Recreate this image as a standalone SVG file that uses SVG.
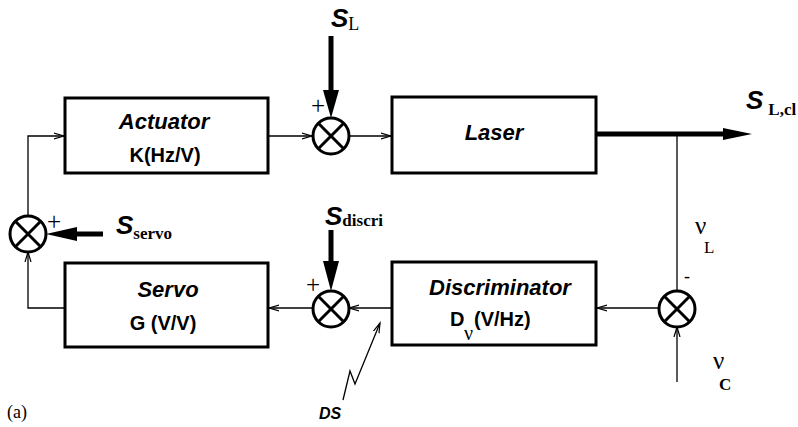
<svg xmlns="http://www.w3.org/2000/svg" width="798" height="427" viewBox="0 0 798 427">
<style>
.box{fill:#fff;stroke:#000;stroke-width:3}
.sum{fill:#fff;stroke:#000;stroke-width:3}
.x{stroke:#000;stroke-width:3}
.thin{fill:none;stroke:#000;stroke-width:1.3}
.thick{fill:none;stroke:#000;stroke-width:5}
.head{fill:#000}
.title{font-family:"Liberation Sans",Arial,sans-serif;font-weight:bold;font-style:italic;font-size:22px;text-anchor:middle}
.sub{font-family:"Liberation Sans",Arial,sans-serif;font-weight:bold;font-size:20px}
.S{font-family:"Liberation Sans",Arial,sans-serif;font-weight:bold;font-style:italic;font-size:26px}
.ser{font-family:"Liberation Serif","Times New Roman",serif}
.serb{font-family:"Liberation Serif","Times New Roman",serif;font-weight:bold}
.plus{font-family:"Liberation Serif","Times New Roman",serif;font-size:25px;text-anchor:middle}
</style>
<defs>
<marker id="arr" markerUnits="userSpaceOnUse" markerWidth="12" markerHeight="8" refX="10" refY="4" orient="auto">
<path d="M0,1 L10,4 L0,7" fill="none" stroke="#000" stroke-width="1.2"/>
</marker>
</defs>
<rect width="798" height="427" fill="#fff"/>

<g id="connectors">
<line class="thin" x1="268" y1="136" x2="312" y2="136" marker-end="url(#arr)"/>
<line class="thin" x1="349" y1="136" x2="391" y2="136" marker-end="url(#arr)"/>
<line class="thick" x1="331" y1="36" x2="331" y2="95"/>
<polygon class="head" points="323,90 339,90 331,118"/>
<line class="thick" x1="596" y1="134" x2="726" y2="134"/>
<polygon class="head" points="723,128 723,140 752,134"/>
<line class="thin" x1="677" y1="134" x2="677" y2="291"/>
<line class="thin" x1="677" y1="382" x2="677" y2="327" marker-end="url(#arr)"/>
<line class="thin" x1="659" y1="308" x2="597" y2="308" marker-end="url(#arr)"/>
<line class="thin" x1="392" y1="308" x2="349" y2="308" marker-end="url(#arr)"/>
<line class="thick" x1="331" y1="230" x2="331" y2="265"/>
<polygon class="head" points="323,261 339,261 331,291"/>
<line class="thin" x1="313" y1="308" x2="269" y2="308" marker-end="url(#arr)"/>
<polyline class="thin" points="65,308 28,308 28,252" marker-end="url(#arr)"/>
<polyline class="thin" points="28,216 28,136 64,136" marker-end="url(#arr)"/>
<line class="thick" x1="103" y1="234" x2="74" y2="234"/>
<polygon class="head" points="77,227 77,241 46,234"/>
<polyline class="thin" points="343,400 350,371 355,384 380,323" marker-end="url(#arr)"/>
</g>

<g id="actuator">
<rect class="box" x="65" y="98" width="203" height="75"/>
<text class="title" x="164" y="129">Actuator</text>
<text class="sub" x="165" y="162" text-anchor="middle">K(Hz/V)</text>
</g>

<g id="laser">
<rect class="box" x="392" y="97" width="204" height="76"/>
<text class="title" x="494" y="140">Laser</text>
</g>

<g id="discriminator">
<rect class="box" x="392" y="262" width="204" height="83"/>
<text class="title" x="500" y="295">Discriminator</text>
<text class="sub" x="450" y="326">D</text>
<text class="ser" x="464" y="340" font-size="20">ν</text>
<text class="sub" x="474" y="326">(V/Hz)</text>
</g>

<g id="servo">
<rect class="box" x="65" y="263" width="203" height="84"/>
<text class="title" x="168" y="297">Servo</text>
<text class="sub" x="163" y="330" text-anchor="middle">G (V/V)</text>
</g>

<g id="sum-top">
<circle class="sum" cx="331" cy="136" r="18"/>
<line class="x" x1="318.3" y1="123.3" x2="343.7" y2="148.7"/>
<line class="x" x1="343.7" y1="123.3" x2="318.3" y2="148.7"/>
<text class="plus" x="318" y="114">+</text>
</g>

<g id="sum-middle">
<circle class="sum" cx="331" cy="309" r="18"/>
<line class="x" x1="318.3" y1="296.3" x2="343.7" y2="321.7"/>
<line class="x" x1="343.7" y1="296.3" x2="318.3" y2="321.7"/>
<text class="plus" x="313" y="293">+</text>
</g>

<g id="sum-right">
<circle class="sum" cx="677" cy="309" r="18"/>
<line class="x" x1="664.3" y1="296.3" x2="689.7" y2="321.7"/>
<line class="x" x1="689.7" y1="296.3" x2="664.3" y2="321.7"/>
<text class="ser" x="687" y="282" font-size="18" text-anchor="middle">-</text>
</g>

<g id="sum-left">
<circle class="sum" cx="28" cy="234" r="18"/>
<line class="x" x1="15.3" y1="221.3" x2="40.7" y2="246.7"/>
<line class="x" x1="40.7" y1="221.3" x2="15.3" y2="246.7"/>
<text class="plus" x="54" y="230">+</text>
</g>

<g id="labels">
<text x="331" y="27"><tspan class="S">S</tspan><tspan class="ser" font-size="18" dy="3">L</tspan></text>
<text x="746" y="109"><tspan class="S">S</tspan><tspan class="serb" font-size="17" dx="5" dy="6">L,cl</tspan></text>
<text x="116" y="234"><tspan class="S" font-size="25">S</tspan><tspan class="serb" font-size="17" dy="5">servo</tspan></text>
<text x="325" y="225"><tspan class="S" font-size="25">S</tspan><tspan class="serb" font-size="17" dy="1">discri</tspan></text>
<text class="ser" x="695" y="234" font-size="25">ν</text>
<text class="ser" x="704" y="253" font-size="17">L</text>
<text class="ser" x="713" y="369" font-size="25">ν</text>
<text class="serb" x="719" y="390" font-size="17">C</text>
<text x="319" y="419" font-family="Liberation Sans, Arial, sans-serif" font-weight="bold" font-style="italic" font-size="16">DS</text>
<text class="ser" x="7" y="418" font-size="18">(a)</text>
</g>
</svg>
